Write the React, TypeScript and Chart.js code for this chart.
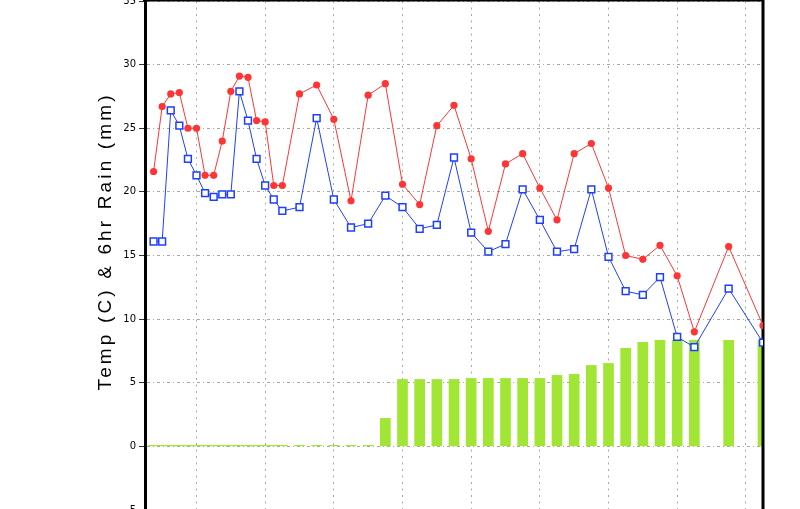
import React, { useEffect, useRef } from "react";
import { Chart, registerables } from "chart.js";

Chart.register(...registerables);

// forecast hours (relative), 3-hourly then 6-hourly
const hours = [
  -15, -12, -9, -6, -3, 0, 3, 6, 9, 12, 15, 18, 21, 24, 27, 30,
  36, 42, 48, 54, 60, 66, 72, 78, 84, 90, 96, 102, 108, 114, 120, 126,
  132, 138, 144, 150, 156, 162, 168, 174, 186, 198,
];

const tempMax = [
  21.6, 26.7, 27.7, 27.8, 25.0, 25.0, 21.3, 21.3, 24.0, 27.9, 29.1, 29.0, 25.6, 25.5, 20.5, 20.5,
  27.7, 28.4, 25.7, 19.3, 27.6, 28.5, 20.6, 19.0, 25.2, 26.8, 22.6, 16.9, 22.2, 23.0, 20.3, 17.8,
  23.0, 23.8, 20.3, 15.0, 14.7, 15.8, 13.4, 9.0, 15.7, 9.5,
];

const tempMin = [
  16.1, 16.1, 26.4, 25.2, 22.6, 21.3, 19.9, 19.6, 19.8, 19.8, 27.9, 25.6, 22.6, 20.5, 19.4, 18.5,
  18.8, 25.8, 19.4, 17.2, 17.5, 19.7, 18.8, 17.1, 17.4, 22.7, 16.8, 15.3, 15.9, 20.2, 17.8, 15.3,
  15.5, 20.2, 14.9, 12.2, 11.9, 13.3, 8.6, 7.8, 12.4, 8.15,
];

const rain = [
  0.08, 0.08, 0.08, 0.08, 0.08, 0.08, 0.08, 0.08, 0.08, 0.08, 0.08, 0.08, 0.08, 0.08, 0.08, 0.08,
  0.08, 0.08, 0.08, 0.08, 0.08, 2.2, 5.26, 5.26, 5.26, 5.26, 5.34, 5.34, 5.34, 5.34, 5.34, 5.58,
  5.66, 6.36, 6.52, 7.7, 8.17, 8.33, 8.33, 8.33, 8.33, 8.33,
];

const yTicks = [-5, 0, 5, 10, 15, 20, 25, 30, 35];
const xGridHours = [0, 24, 48, 72, 96, 120, 144, 168, 192];
const yTitle = "Temp (C) & 6hr Rain (mm)";

const SHIFT = 9;

export default function App() {
  const ref = useRef<HTMLCanvasElement | null>(null);

  useEffect(() => {
    if (!ref.current) return;

    const framePlugin = {
      id: "frame",
      afterDatasetDraw(chart: any, args: any) {
        if (args.index !== 0) return;
        const { ctx, chartArea } = chart;
        ctx.save();
        ctx.strokeStyle = "#000";
        ctx.lineWidth = 3;
        ctx.beginPath();
        ctx.moveTo(chartArea.right, chartArea.top - 1);
        ctx.lineTo(chartArea.right, chartArea.bottom);
        ctx.stroke();
        ctx.lineWidth = 2;
        ctx.beginPath();
        ctx.moveTo(chartArea.left - 2, chartArea.top - 0.5);
        ctx.lineTo(chartArea.right, chartArea.top - 0.5);
        ctx.stroke();
        ctx.restore();
      },
    };

    const titlePlugin = {
      id: "ytitle",
      afterDraw(chart: any) {
        const ctx = chart.ctx;
        ctx.save();
        ctx.font = "19px 'Liberation Sans'";
        ctx.fillStyle = "#000";
        const target = 295;
        (ctx as any).letterSpacing = "0px";
        const w = ctx.measureText(yTitle).width;
        const sp = (target - w) / (yTitle.length - 1);
        (ctx as any).letterSpacing = sp + "px";
        ctx.translate(106, 243 + SHIFT);
        ctx.rotate(-Math.PI / 2);
        ctx.textAlign = "left";
        ctx.textBaseline = "middle";
        ctx.fillText(yTitle, -target / 2, 0);
        ctx.restore();
      },
    };

    const chart = new Chart(ref.current, {
      type: "bar",
      data: {
        datasets: [
          {
            type: "bar",
            data: hours.map((h, i) => ({ x: h, y: rain[i] })),
            backgroundColor: "#a2e635",
            borderWidth: 0,
            barThickness: 10,
            order: 3,
          } as any,
          {
            type: "line",
            data: hours.map((h, i) => ({ x: h, y: tempMin[i] })),
            borderColor: "#1f3fff",
            borderWidth: 1,
            pointStyle: "rect",
            pointRadius: 4.8,
            pointBorderWidth: 1.5,
            pointBorderColor: "#1f3fff",
            pointBackgroundColor: "#ffffff",
            tension: 0,
            order: 2,
          } as any,
          {
            type: "line",
            data: hours.map((h, i) => ({ x: h, y: tempMax[i] })),
            borderColor: "#ff3535",
            borderWidth: 1,
            pointStyle: "circle",
            pointRadius: 3.6,
            pointBorderWidth: 0,
            pointBackgroundColor: "#ff3535",
            tension: 0,
            order: 1,
          } as any,
        ],
      },
      options: {
        animation: false,
        responsive: false,
        devicePixelRatio: 1,
        layout: {
          autoPadding: false,
          padding: { top: 10, left: 0, right: 37, bottom: 10 },
        } as any,
        plugins: {
          legend: { display: false },
          tooltip: { enabled: false },
        },
        events: [],
        scales: {
          x: {
            type: "linear",
            min: -18,
            max: 198,
            offset: false,
            afterBuildTicks: (scale: any) => {
              scale.ticks = xGridHours.map((v) => ({ value: v }));
            },
            afterFit: (scale: any) => {
              scale.height = 0;
            },
            ticks: { display: false },
            grid: {
              offset: false,
              color: "#a8a8a8",
              lineWidth: 1,
              drawTicks: false,
            },
            border: { display: false, dash: [2, 4.5] },
          } as any,
          y: {
            type: "linear",
            min: -5,
            max: 35,
            afterBuildTicks: (scale: any) => {
              scale.ticks = yTicks.map((v) => ({ value: v }));
            },
            afterFit: (scale: any) => {
              scale.width = 145;
            },
            ticks: {
              color: "#000",
              font: { family: "'DejaVu Sans'", size: 10 },
              padding: 3,
            },
            grid: {
              color: "#a8a8a8",
              lineWidth: 1,
              tickLength: 6,
              tickColor: "#333",
              tickBorderDash: [],
            },
            border: { display: true, color: "#000", width: 3, dash: [3, 3, 1, 3] },
          } as any,
        },
      },
      plugins: [framePlugin, titlePlugin],
    });

    return () => chart.destroy();
  }, []);

  return (
    <div
      style={{
        position: "absolute",
        left: 0,
        top: 0,
        width: 800,
        height: 509,
        overflow: "hidden",
        background: "#fff",
      }}
    >
      <canvas
        ref={ref}
        width={800}
        height={529}
        style={{ display: "block", position: "absolute", left: 0, top: -SHIFT }}
      />
    </div>
  );
}
